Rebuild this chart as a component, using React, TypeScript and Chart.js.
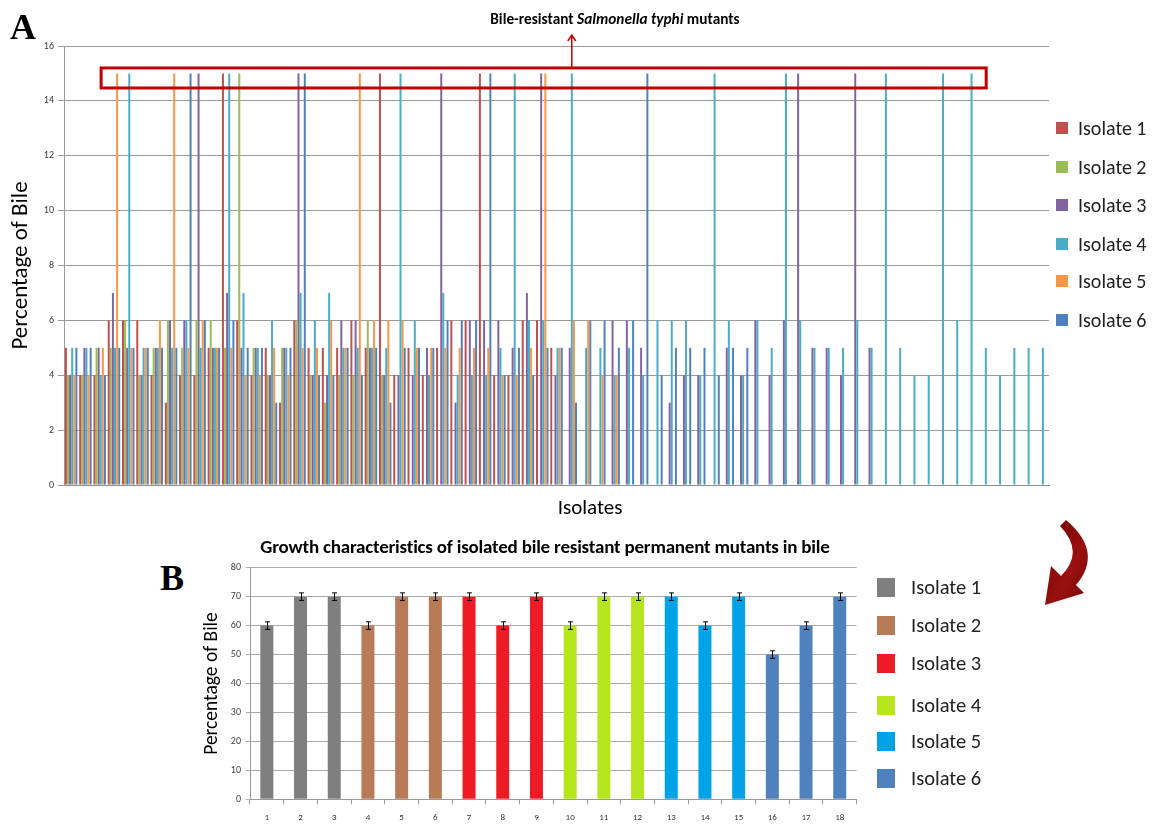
import React, { useEffect, useRef } from 'react';
import { Chart, registerables } from 'chart.js';

Chart.register(...registerables);

const FONT = "Carlito, Lato, 'Open Sans', sans-serif";
const SERIF = "'Liberation Serif', 'Times New Roman', serif";

// ---------------- Panel A data ----------------
const N = null;
const CATEGORY_COUNT = 69;
const ISOLATE_IDS = Array.from({ length: CATEGORY_COUNT }, (_, i) => String(i + 1));

const ISOLATE_1 = [5, 4, 4, 6, 6, 6, 4, 3, 4, 4, 5, 15, 6, 4, 5, 3, 6, 5, 5, 5, 6, 5, 15, 4, 5, 4, 5, 6, 6, 15, 4, 4, 6, 6, 5];
const ISOLATE_2 = [4, 4, 5, 5, 6, 4, 5, 6, 5, 6, 6, 5, 15, 5, 4, 5, 6, 4, 3, 4, 4, 6, 4];
const ISOLATE_3 = [4, 5, 5, 7, 5, 4, 5, 6, 6, 15, 5, 7, 5, 5, 4, 5, 15, 4, 4, 6, 6, 5, 4, 4, 4, 5, 15, 3, 6, 6, 6, 5, 7, 15, 4, 5, N, N, 6, 6, 5, N, 3, 4, 4, N, 5, 4, 6, 4, 6, 15, 5, 5, 4, 15, 5];
const ISOLATE_4 = [5, 5, 4, 5, 15, 5, 5, 5, 6, 5, 5, 15, 7, 5, 6, 5, 7, 6, 7, 5, 5, 5, 5, 15, 6, 4, 7, 4, 4, 4, 5, 15, 6, 6, 5, 15, 5, 5, 4, 5, 4, 6, 6, 6, 4, 15, 6, 4, 6, 5, 15, 6, 5, 5, 5, 6, 5, 15, 5, 4, 4, 15, 6, 15, 5, 4, 5, 5, 5];
const ISOLATE_5 = [4, 4, 5, 15, 5, 5, 6, 15, 5, 6, 5, 5, 4, 4, 5, 4, 5, 5, 6, 5, 15, 6, 6, 6, 5, 5, 5, 5, 5, 5, 4, 4, 5, 15, 5, 6, 6, 4, 4];
const ISOLATE_6 = [5, 5, 4, 5, 5, 5, 5, 5, 15, 6, 5, 6, 5, 5, 3, 5, 15, 4, 4, 5, 4, 5, 3, 5, 5, 5, 6, 6, 6, 15, 4, 5, 4, 5, 5, 3, 6, 6, 5, 6, 15, 4, 5, 5, 5, 4, 5, 5];

const SERIES_NAMES = ['Isolate 1', 'Isolate 2', 'Isolate 3', 'Isolate 4', 'Isolate 5', 'Isolate 6'];
const SERIES_A = [ISOLATE_1, ISOLATE_2, ISOLATE_3, ISOLATE_4, ISOLATE_5, ISOLATE_6];
const COLORS_A = ['#C0504D', '#9BBB59', '#8064A2', '#4BACC6', '#F79646', '#4F81BD'];
const Y_TICKS_A = [0, 2, 4, 6, 8, 10, 12, 14, 16];

// ---------------- Panel B data ----------------
const B_LABELS = ['1', '2', '3', '4', '5', '6', '7', '8', '9', '10', '11', '12', '13', '14', '15', '16', '17', '18'];
const B_VALUES = [60, 70, 70, 60, 70, 70, 70, 60, 70, 60, 70, 70, 70, 60, 70, 50, 60, 70];
const B_ERRORS = [1.3, 1.3, 1.3, 1.3, 1.3, 1.3, 1.3, 1.3, 1.3, 1.3, 1.3, 1.3, 1.3, 1.3, 1.3, 1.3, 1.3, 1.3];
const B_GROUP = [0, 0, 0, 1, 1, 1, 2, 2, 2, 3, 3, 3, 4, 4, 4, 5, 5, 5];
const COLORS_B = ['#7F7F7F', '#B97A57', '#ED1C24', '#B5E61D', '#00A2E8', '#4F81BD'];

// annotation (highlight box) in category / value units
const BOX_CAT = [2.6, 64.6];
const BOX_VAL = [14.47, 15.2];
const ARROW_CAT = 35.57;
const ARROW_TOP_VAL = 16.4;

function padTo(arr: (number | null)[], n: number) {
  const out = arr.slice();
  while (out.length < n) out.push(null);
  return out;
}

const highlightPlugin = {
  id: 'highlightBox',
  afterDraw(chart: any) {
    const { ctx, chartArea, scales } = chart;
    const catW = chartArea.width / CATEGORY_COUNT;
    const x0 = chartArea.left + BOX_CAT[0] * catW;
    const x1 = chartArea.left + BOX_CAT[1] * catW;
    const yTop = scales.y.getPixelForValue(BOX_VAL[1]);
    const yBot = scales.y.getPixelForValue(BOX_VAL[0]);
    ctx.save();
    ctx.strokeStyle = '#C00000';
    ctx.lineWidth = 3;
    ctx.strokeRect(x0, yTop, x1 - x0, yBot - yTop);
    const ax = chartArea.left + ARROW_CAT * catW;
    const ay = scales.y.getPixelForValue(ARROW_TOP_VAL);
    ctx.lineWidth = 1.5;
    ctx.beginPath();
    ctx.moveTo(ax, yTop - 1);
    ctx.lineTo(ax, ay);
    ctx.moveTo(ax - 4, ay + 6);
    ctx.lineTo(ax, ay);
    ctx.lineTo(ax + 4, ay + 6);
    ctx.stroke();
    ctx.restore();
  },
};

const errorBarPlugin = {
  id: 'errorBars',
  afterDatasetsDraw(chart: any) {
    const { ctx, scales } = chart;
    const meta = chart.getDatasetMeta(0);
    ctx.save();
    ctx.strokeStyle = '#000';
    ctx.lineWidth = 1;
    meta.data.forEach((el: any, i: number) => {
      const v = B_VALUES[i];
      const e = B_ERRORS[i];
      const x = Math.round(el.x) + 0.5;
      const yt = scales.y.getPixelForValue(v + e);
      const yb = scales.y.getPixelForValue(v - e);
      ctx.beginPath();
      ctx.moveTo(x, yt);
      ctx.lineTo(x, yb);
      ctx.moveTo(x - 2.5, yt);
      ctx.lineTo(x + 2.5, yt);
      ctx.moveTo(x - 2.5, yb);
      ctx.lineTo(x + 2.5, yb);
      ctx.stroke();
    });
    ctx.restore();
  },
};

const LEGEND_A_Y = [128, 167, 205, 244, 281, 320];
const LEGEND_B_Y = [587, 625, 663, 705, 741, 778];

export default function App() {
  const refA = useRef<HTMLCanvasElement | null>(null);
  const refB = useRef<HTMLCanvasElement | null>(null);

  useEffect(() => {
    const chartA = new Chart(refA.current as HTMLCanvasElement, {
      type: 'bar',
      data: {
        labels: ISOLATE_IDS,
        datasets: SERIES_A.map((d, i) => ({
          label: SERIES_NAMES[i],
          data: padTo(d, CATEGORY_COUNT),
          backgroundColor: COLORS_A[i],
          borderWidth: 0,
          barPercentage: 0.95,
          categoryPercentage: 0.88,
        })),
      },
      options: {
        responsive: false,
        animation: false,
        layout: { padding: { left: 0, right: 112, top: 46, bottom: 0 } },
        plugins: { legend: { display: false }, tooltip: { enabled: false }, title: { display: false } },
        scales: {
          x: {
            grid: { display: false },
            border: { display: true, color: '#8c8c8c' },
            ticks: { display: false },
            afterFit: (s: any) => { s.height = 40; },
          },
          y: {
            min: 0,
            max: 16,
            afterBuildTicks: (s: any) => { s.ticks = Y_TICKS_A.map((v) => ({ value: v })); },
            ticks: { font: { family: FONT, size: 10 }, color: '#404040', padding: 4 },
            grid: { color: '#9a9a9a', tickLength: 6 },
            border: { color: '#9a9a9a' },
            title: { display: true, text: 'Percentage of Bile', font: { family: FONT, size: 23 }, color: '#000', padding: { top: 7, bottom: 0 } },
            afterFit: (s: any) => { s.width = 64; },
          },
        },
      },
      plugins: [highlightPlugin],
    } as any);

    const chartB = new Chart(refB.current as HTMLCanvasElement, {
      type: 'bar',
      data: {
        labels: B_LABELS,
        datasets: [{
          label: 'Percentage of Bile',
          data: B_VALUES,
          backgroundColor: B_GROUP.map((g) => COLORS_B[g]),
          borderWidth: 0,
          barPercentage: 0.385,
          categoryPercentage: 1,
        }],
      },
      options: {
        responsive: false,
        animation: false,
        layout: { padding: { left: 0, right: 33.4, top: 11.7, bottom: 0 } },
        plugins: { legend: { display: false }, tooltip: { enabled: false } },
        scales: {
          x: {
            grid: { drawOnChartArea: false, tickLength: 5, color: '#999' },
            border: { color: '#999' },
            ticks: { font: { family: FONT, size: 9 }, color: '#333', padding: 8 },
            afterFit: (s: any) => { s.height = 24.7; },
          },
          y: {
            min: 0,
            max: 80,
            ticks: { stepSize: 10, font: { family: FONT, size: 10 }, color: '#404040', padding: 5 },
            grid: { color: '#aaa', tickLength: 4 },
            border: { color: '#999' },
            title: { display: true, text: 'Percentage of Bile', font: { family: FONT, size: 19.5 }, color: '#000', padding: { top: 10, bottom: 0 } },
            afterFit: (s: any) => { s.width = 60; },
          },
        },
      },
      plugins: [errorBarPlugin],
    } as any);

    return () => {
      chartA.destroy();
      chartB.destroy();
    };
  }, []);

  const abs = (o: React.CSSProperties): React.CSSProperties => ({ position: 'absolute', ...o });

  return (
    <div style={abs({ left: 0, top: 0, width: 1161, height: 824, background: '#fff', overflow: 'hidden', fontFamily: FONT })}>
      <canvas ref={refA} width={1161} height={525} style={abs({ left: 0, top: 0, width: 1161, height: 525 })} />
      <canvas ref={refB} width={700} height={268} style={abs({ left: 190, top: 556, width: 700, height: 268 })} />

      <div style={abs({ left: 10, top: 9, fontFamily: SERIF, fontWeight: 'bold', fontSize: 36, lineHeight: '36px' })}>A</div>
      <div style={abs({ left: 160, top: 560, fontFamily: SERIF, fontWeight: 'bold', fontSize: 36, lineHeight: '36px' })}>B</div>

      <div style={abs({ left: 415, width: 400, top: 9, textAlign: 'center', fontWeight: 'bold', fontSize: 15.3, lineHeight: '20px', whiteSpace: 'nowrap' })}>
        Bile-resistant <i>Salmonella typhi</i> mutants
      </div>
      <div style={abs({ left: 245, width: 600, top: 536, textAlign: 'center', fontWeight: 'bold', fontSize: 19, lineHeight: '22px', whiteSpace: 'nowrap', letterSpacing: -0.2 })}>
        Growth characteristics of isolated bile resistant permanent mutants in bile
      </div>

      <div style={abs({ left: 490, width: 200, top: 494, textAlign: 'center', fontSize: 21, lineHeight: '26px', color: '#000' })}>Isolates</div>

      {SERIES_NAMES.map((name, i) => (
        <React.Fragment key={'la' + i}>
          <div style={abs({ left: 1056, top: LEGEND_A_Y[i] - 6, width: 12, height: 12, background: COLORS_A[i] })} />
          <div style={abs({ left: 1078, top: LEGEND_A_Y[i] - 13, height: 26, lineHeight: '26px', fontSize: 20, color: '#222', whiteSpace: 'nowrap' })}>{name}</div>
        </React.Fragment>
      ))}

      {SERIES_NAMES.map((name, i) => (
        <React.Fragment key={'lb' + i}>
          <div style={abs({ left: 877, top: LEGEND_B_Y[i] - 9, width: 18, height: 19, background: COLORS_B[i] })} />
          <div style={abs({ left: 911, top: LEGEND_B_Y[i] - 13, height: 26, lineHeight: '26px', fontSize: 20.5, color: '#222', whiteSpace: 'nowrap' })}>{name}</div>
        </React.Fragment>
      ))}

      <svg width={1161} height={824} style={abs({ left: 0, top: 0, pointerEvents: 'none' })}>
        <defs>
          <linearGradient id="arrowGrad" x1="0" y1="0" x2="1" y2="1">
            <stop offset="0" stopColor="#6E0000" />
            <stop offset="0.6" stopColor="#9A1010" />
            <stop offset="1" stopColor="#7A0505" />
          </linearGradient>
        </defs>
        <path
          d="M 1066 520 Q 1104 552 1076 585 L 1084 593 L 1045 605 L 1051 566 L 1061 576 Q 1085 552 1060 526 Z"
          fill="url(#arrowGrad)"
        />
      </svg>
    </div>
  );
}
